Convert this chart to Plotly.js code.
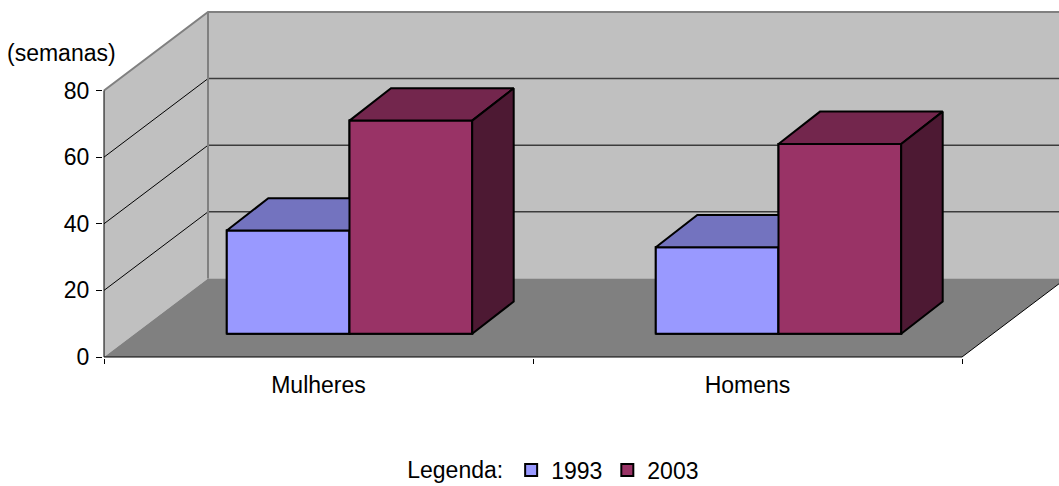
<!DOCTYPE html>
<html>
<head>
<meta charset="utf-8">
<script src="https://cdn.plot.ly/plotly-3.0.1.min.js"></script>
<style>
  html, body { margin: 0; padding: 0; background: #ffffff; }
  #chart { width: 1059px; height: 486px; }
</style>
</head>
<body>
<div id="chart"></div>
<script>
// ---------------- data ----------------
const categories = ['Mulheres', 'Homens'];
const years = ['1993', '2003'];
const semanas1993 = [31, 26];
const semanas2003 = [64, 57];
const yTickValues = [0, 20, 40, 60, 80];
const yUnitLabel = '(semanas)';
const legendTitle = 'Legenda:';

// ---------------- styling / geometry ----------------
const FONT = 'Liberation Sans, Arial, sans-serif';
const FS = 23;
const frontColors = ['#9999FF', '#993366'];
const topColors = ['#7373BF', '#73264D'];
const sideColors = ['#4D4D80', '#4D1933'];

const PX_PER_X = 429;     // pixels per category unit
const PX_PER_Y = 3.331;   // pixels per value unit
const px2x = p => p / PX_PER_X;
const px2y = p => p / PX_PER_Y;

const WALL_DX = px2x(104), WALL_DY = px2y(78.5);
const BAR_FDX = px2x(31), BAR_FDY = px2y(23.2);   // bars stand this deep in the box
const BAR_DDX = px2x(41.5), BAR_DDY = px2y(32.3); // bar depth
const BAR_W = px2x(122.7);
const Y_MAX = 80;

const X0 = -0.5, X1 = categories.length - 0.5;
const XR = X1 + WALL_DX;

const xRange = [X0 - px2x(1), X1 + px2x(97)];
const yRange = [-px2y(1), Y_MAX + WALL_DY + px2y(2)];

function poly(pts) {
  return 'M' + pts.map(p => p[0] + ',' + p[1]).join(' L') + ' Z';
}
function line(pts) {
  return 'M' + pts.map(p => p[0] + ',' + p[1]).join(' L');
}

// ---------------- walls, floor, gridlines ----------------
const shapes = [];
const sh = (path, fill, lc, lw) => shapes.push({
  type: 'path', xref: 'x', yref: 'y', layer: 'below', path: path,
  fillcolor: fill || 'rgba(0,0,0,0)',
  line: { color: lc || 'rgba(0,0,0,0)', width: lw || 0 }
});

// left wall
sh(poly([[X0, 0], [X0 + WALL_DX, WALL_DY], [X0 + WALL_DX, Y_MAX + WALL_DY], [X0, Y_MAX]]), '#C0C0C0');
// back wall
sh(poly([[X0 + WALL_DX, WALL_DY], [XR, WALL_DY], [XR, Y_MAX + WALL_DY], [X0 + WALL_DX, Y_MAX + WALL_DY]]), '#C0C0C0');
// floor
sh(poly([[X0, 0], [X1, 0], [XR, WALL_DY], [X0 + WALL_DX, WALL_DY]]), '#808080');

// gridlines
yTickValues.forEach(v => {
  if (v === 0 || v === Y_MAX) return;
  sh(line([[X0, v], [X0 + WALL_DX, v + WALL_DY]]), null, '#000000', 1);
  sh(line([[X0 + WALL_DX, v + WALL_DY], [XR, v + WALL_DY]]), null, '#3c3c3c', 1.5);
});
// wall borders (gray)
sh(line([[X0, Y_MAX], [X0 + WALL_DX, Y_MAX + WALL_DY], [XR, Y_MAX + WALL_DY]]), null, '#808080', 2);
sh(line([[X0 + WALL_DX, WALL_DY], [X0 + WALL_DX, Y_MAX + WALL_DY]]), null, '#808080', 2);
// floor right edge
sh(line([[X1, 0], [XR, WALL_DY]]), null, '#000000', 1);
// axis lines
sh(line([[X0, 0], [X0, Y_MAX]]), null, '#000000', 1);
sh(line([[X0, 0], [X1, 0]]), null, '#000000', 1);

// ---------------- bars ----------------
const series = [semanas1993, semanas2003];
const traces = [];

// front faces as bar traces (also give the legend entries)
series.forEach((vals, s) => {
  traces.push({
    type: 'bar',
    name: years[s],
    x: categories.map((c, i) => i - BAR_W / 2 + s * BAR_W + BAR_FDX),
    y: vals,
    base: vals.map(() => BAR_FDY),
    width: vals.map(() => BAR_W),
    marker: { color: frontColors[s], line: { color: '#000000', width: 2 } },
    hoverinfo: 'skip',
    showlegend: true
  });
});

// 3D faces (front redrawn so overlaps are correct), drawn bar by bar
categories.forEach((c, i) => {
  series.forEach((vals, s) => {
    const v = vals[i];
    const xl = i - BAR_W + s * BAR_W + BAR_FDX;
    const xr = xl + BAR_W;
    const yb = BAR_FDY, yt = BAR_FDY + v;
    const faces = [
      [[[xl, yb], [xr, yb], [xr, yt], [xl, yt], [xl, yb]], frontColors[s]],
      [[[xl, yt], [xr, yt], [xr + BAR_DDX, yt + BAR_DDY], [xl + BAR_DDX, yt + BAR_DDY], [xl, yt]], topColors[s]],
      [[[xr, yb], [xr, yt], [xr + BAR_DDX, yt + BAR_DDY], [xr + BAR_DDX, yb + BAR_DDY], [xr, yb]], sideColors[s]]
    ];
    faces.forEach(f => {
      traces.push({
        type: 'scatter', mode: 'lines',
        x: f[0].map(p => p[0]), y: f[0].map(p => p[1]),
        fill: 'toself', fillcolor: f[1],
        line: { color: '#000000', width: 2 },
        hoverinfo: 'skip', showlegend: false
      });
    });
  });
});

const layout = {
  width: 1059, height: 486,
  margin: { l: 103, r: 0, t: 10, b: 128, autoexpand: false },
  paper_bgcolor: '#ffffff', plot_bgcolor: 'rgba(0,0,0,0)',
  font: { family: FONT, size: FS, color: '#000000' },
  barmode: 'overlay',
  hovermode: false,
  showlegend: true,
  xaxis: {
    range: xRange, fixedrange: true, automargin: false,
    showgrid: false, zeroline: false, showline: false,
    tickmode: 'array', tickvals: categories.map((c, i) => i), ticktext: categories,
    ticks: '', ticklabelstandoff: 11,
    tickfont: { family: FONT, size: FS, color: '#000000' },
    minor: {
      tickmode: 'array', tickvals: categories.map((c, i) => i - 0.5).concat([X1]),
      ticks: 'outside', ticklen: 5, tickcolor: '#000000', tickwidth: 1, showgrid: false
    }
  },
  yaxis: {
    range: yRange, fixedrange: true, automargin: false,
    showgrid: false, zeroline: false, showline: false,
    tickmode: 'array', tickvals: yTickValues,
    ticks: 'outside', ticklen: 6, tickcolor: '#000000', tickwidth: 1,
    ticklabelstandoff: 2,
    tickfont: { family: FONT, size: FS, color: '#000000' }
  },
  legend: {
    orientation: 'h',
    x: 0.4725, xanchor: 'center', xref: 'paper',
    y: -0.322, yanchor: 'middle', yref: 'paper',
    bgcolor: 'rgba(0,0,0,0)',
    font: { family: FONT, size: FS, color: '#000000' },
    title: { text: legendTitle, side: 'left', font: { family: FONT, size: FS, color: '#000000' } },
    traceorder: 'normal'
  },
  annotations: [{
    text: yUnitLabel, xref: 'paper', yref: 'paper',
    x: (118 - 103) / 956, xanchor: 'right',
    y: (358 - 53) / 348, yanchor: 'middle',
    showarrow: false,
    font: { family: FONT, size: FS, color: '#000000' }
  }],
  shapes: shapes
};

Plotly.newPlot('chart', traces, layout, { staticPlot: true, displayModeBar: false });
</script>
</body>
</html>
